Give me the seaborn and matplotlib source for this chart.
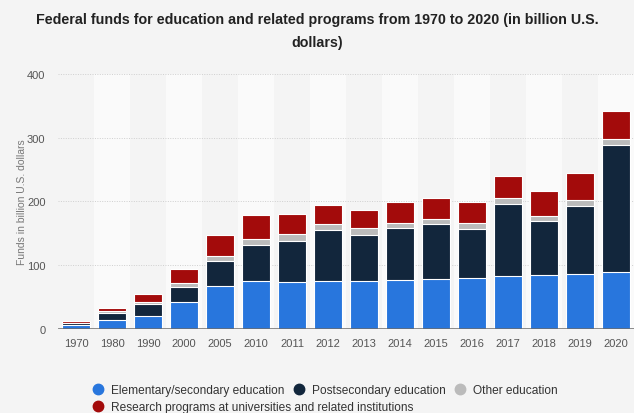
import matplotlib
matplotlib.use("Agg")
import matplotlib.pyplot as plt
from matplotlib.lines import Line2D
import seaborn as sns
import pandas as pd
import numpy as np

# Federal funds by program area, billion U.S. dollars
years = ["1970", "1980", "1990", "2000", "2005", "2010", "2011", "2012",
         "2013", "2014", "2015", "2016", "2017", "2018", "2019", "2020"]
elementary = [5.0, 14.2, 20.5, 42.5, 67.7, 74.5, 73.0, 74.5,
              74.5, 76.6, 77.7, 80.3, 81.9, 85.0, 85.6, 88.2]
postsecondary = [3.0, 11.0, 17.8, 23.1, 38.3, 57.3, 64.5, 80.5,
                 73.0, 80.9, 87.1, 76.1, 113.9, 84.0, 107.6, 200.5]
other = [1.0, 2.1, 3.7, 6.8, 7.4, 9.4, 11.5, 10.0,
         10.0, 7.9, 8.2, 9.0, 10.0, 8.4, 9.4, 9.3]
research = [3.0, 5.7, 12.0, 20.6, 33.6, 37.8, 31.0, 30.0,
            29.5, 33.0, 32.8, 33.0, 34.2, 38.3, 42.0, 43.7]

series_names = ["Elementary/secondary education", "Postsecondary education",
                "Other education", "Research programs at universities and related institutions"]
colors = ["#2876dd", "#12263c", "#bbbbbb", "#a30b0b"]

df = pd.DataFrame({"year": years, "elem": elementary, "post": postsecondary,
                   "other": other, "research": research})
df["c1"] = df["elem"]
df["c2"] = df["c1"] + df["post"]
df["c3"] = df["c2"] + df["other"]
df["c4"] = df["c3"] + df["research"]

sns.set_theme(style="white")
plt.rcParams["font.family"] = ["Liberation Sans", "DejaVu Sans"]

bg = "#f4f4f4"
fig = plt.figure(figsize=(6.34, 4.14), dpi=100, facecolor=bg)
ax = fig.add_axes([0.0915, 0.204, 0.9085, 0.614])
ax.set_facecolor(bg)

# alternating column bands
for i in range(len(years)):
    if i % 2 == 1:
        ax.axvspan(i - 0.5, i + 0.5, color="#fafafa", zorder=0, lw=0)

for v in [100, 200, 300, 400]:
    ax.axhline(v, color="#cfcfcf", lw=0.7, ls=(0, (1, 1.5)), zorder=0.5)

# stacked bars drawn as overlapping cumulative totals, top layer first
for col, color in zip(["c4", "c3", "c2", "c1"], colors[::-1]):
    sns.barplot(data=df, x="year", y=col, color=color, saturation=1,
                width=0.77, edgecolor="white", linewidth=0.8, ax=ax, zorder=2)

ax.axhline(0, color="#6a6a6a", lw=1.8, zorder=3)
ax.set_xlim(-0.5, len(years) - 0.5)
ax.set_ylim(0, 400)
ax.set_yticks([0, 100, 200, 300, 400])
ax.set_xlabel("")
ax.set_ylabel("Funds in billion U.S. dollars", fontsize=7.5, color="#777777", labelpad=0)
ax.tick_params(axis="both", length=0, labelsize=8, colors="#555555")
ax.tick_params(axis="x", pad=7)
ax.tick_params(axis="y", pad=9)
for s in ax.spines.values():
    s.set_visible(False)

fig.suptitle("Federal funds for education and related programs from 1970 to 2020 (in billion U.S.\ndollars)",
             x=0.5, y=0.968, fontsize=10.25, fontweight="bold", color="#222222", linespacing=1.8)

def handle(c):
    return Line2D([], [], marker="o", ls="", markersize=7.5, markerfacecolor=c, markeredgecolor=c)

legend_kw = dict(loc="upper left", frameon=False, fontsize=8.6, handlelength=1.6,
                 handletextpad=0.3, borderaxespad=0, labelcolor="#333333")
leg1 = fig.legend([handle(c) for c in colors[:3]], series_names[:3], ncol=3,
                  bbox_to_anchor=(0.132, 0.081), columnspacing=0.4, **legend_kw)
leg2 = fig.legend([handle(colors[3])], series_names[3:], ncol=1,
                  bbox_to_anchor=(0.132, 0.040), **legend_kw)

fig.savefig("out.png", dpi=100, facecolor=bg)
